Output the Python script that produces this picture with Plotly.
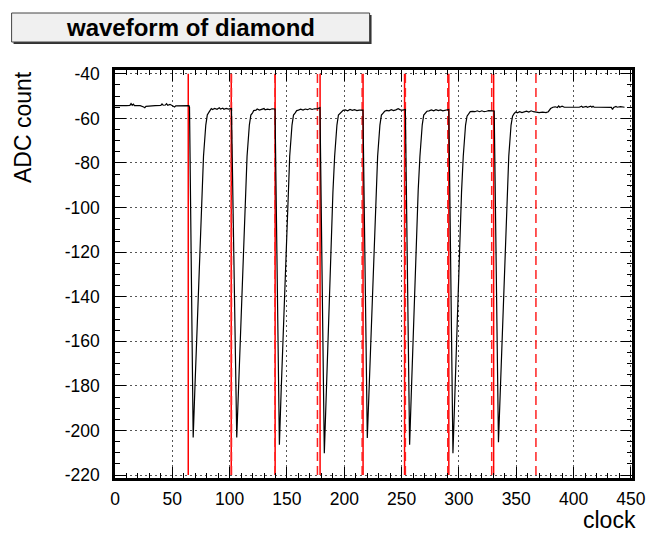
import plotly.graph_objects as go

# ---------------- data ----------------
clock = [
    0, 5, 10, 13, 14, 15, 16, 17, 22, 25, 26, 27, 30, 35, 40, 41, 42, 44, 45, 46, 48, 50, 52, 53, 58, 64.5,
    # pulse 1
    65, 68.2, 69.7, 71.7, 73.7, 75.7, 77.2, 79.2, 80.5, 82, 83, 84, 85, 87, 89, 91, 92, 94, 95, 97, 99, 101.6,
    # pulse 2
    106.2, 107.7, 109.7, 111.7, 113.7, 115.2, 117.2, 118.5, 120, 121, 123, 124, 126, 128, 130, 131, 133, 135, 137, 139.6,
    # pulse 3
    143.4, 144.9, 146.9, 148.9, 150.9, 152.4, 154.4, 155.7, 157.2, 158.5, 160, 162, 164, 166, 168, 170, 172, 174, 177, 178.8,
    # pulse 4
    182.6, 184.1, 186.1, 188.1, 190.1, 191.6, 193.6, 194.9, 196.4, 197.7, 199, 201, 203, 205, 207, 209, 211, 213, 216.3,
    # pulse 5
    220.1, 221.6, 223.6, 225.6, 227.6, 229.1, 231.1, 232.4, 233.9, 235.2, 237, 239, 241, 243, 245, 247, 249, 251, 253.3,
    # pulse 6
    257.0, 258.5, 260.5, 262.5, 264.5, 266, 268, 269.3, 270.8, 272.1, 274, 276, 278, 280, 282, 284, 286, 288, 291.2,
    # pulse 7
    294.8, 296.3, 298.3, 300.3, 302.3, 303.8, 305.8, 307.1, 308.6, 309.9, 312, 314, 316, 318, 320, 322, 324, 326, 329, 330.8,
    # pulse 8 and tail
    334.5, 336, 338, 340, 342, 343.5, 345.5, 346.8, 348.3, 349.6, 351, 353, 355, 357, 359, 361, 363, 365, 367, 370,
    373, 376, 378, 380, 382, 384, 386, 387, 388, 390, 392, 396, 400, 405, 407, 408, 411, 412, 415, 416, 417, 418,
    422, 426, 430, 433, 434, 435, 437, 438, 441, 443, 444.5,
]
adc = [
    -54.3, -54.4, -54.3, -54.2, -53.4, -54.1, -53.6, -54.3, -54.3, -54.9, -55.2, -54.6, -54.4, -54.3, -54.2, -53.5,
    -54.1, -54.0, -53.4, -54.1, -53.7, -54.3, -54.9, -54.4, -54.3, -54.3,
    # pulse 1
    -55.0, -203.1, -181, -151, -122, -92, -77, -63, -58.5, -57.2, -56.3, -55.6, -56.0, -55.5, -55.9, -55.2, -55.8,
    -55.4, -55.9, -55.5, -55.8, -55.6,
    # pulse 2
    -203.1, -181, -151, -122, -92, -77, -63, -58.5, -57.5, -56.5, -56.3, -55.8, -56.3, -56.0, -55.6, -56.2, -55.9,
    -56.1, -55.7, -55.8,
    # pulse 3
    -206.4, -183, -152, -122, -92, -77, -63, -58.5, -57.5, -56.5, -56.3, -55.9, -56.3, -55.8, -56.1, -55.6, -56.0,
    -55.7, -55.6, -55.2,
    # pulse 4
    -210.2, -186, -154, -123, -93, -77, -63, -58.5, -57.6, -56.7, -56.4, -56.2, -56.6, -56.0, -56.4, -56.1, -56.5,
    -56.3, -56.3,
    # pulse 5
    -203.4, -181, -151, -122, -92, -77, -63, -58.5, -57.6, -56.8, -56.4, -56.6, -56.1, -56.5, -56.2, -55.7, -56.2,
    -56.3, -56.0,
    # pulse 6
    -206.4, -183, -152, -122, -92, -77, -63, -58.5, -57.5, -56.8, -56.6, -56.2, -56.6, -56.1, -56.5, -56.2, -56.6,
    -56.3, -56.0,
    # pulse 7
    -210.2, -186, -154, -123, -93, -77, -63, -59, -57.8, -57.0, -56.9, -57.0, -56.6, -57.0, -56.6, -57.0, -56.8,
    -56.5, -56.6, -56.7,
    # pulse 8 and tail
    -205.3, -183, -152, -122, -92, -77, -63, -59, -57.8, -57.1, -57.5, -57.0, -57.4, -57.2, -56.8, -57.2, -56.6,
    -57.0, -57.1, -57.4, -57.2, -57.4, -57.0, -55.6, -55.0, -54.8, -55.1, -54.4, -55.0, -54.5, -55.0, -55.0, -55.0,
    -55.0, -54.5, -55.0, -54.6, -55.0, -54.5, -55.0, -54.6, -55.0, -55.0, -55.0, -55.0, -55.1, -56.0, -55.1, -54.6,
    -55.0, -54.7, -55.0, -55.0,
]

solid_marks = [63.9, 101.4, 139.7, 178.9, 216.4, 252.6, 291.2, 330.3]
dashed_marks = [101.6, 139.6, 176.6, 215.6, 253.3, 290.3, 328.6, 367.2]
line_span = [-220, -40]

x_tickvals = [0, 50, 100, 150, 200, 250, 300, 350, 400, 450]
x_ticktext = ["0", "50", "100", "150", "200", "250", "300", "350", "400", "450"]
y_tickvals = [-220, -200, -180, -160, -140, -120, -100, -80, -60, -40]
y_ticktext = ["-220", "-200", "-180", "-160", "-140", "-120", "-100", "-80", "-60", "-40"]

title_text = "waveform of diamond"
x_title = "clock"
y_title = "ADC count"

# ---------------- layout geometry ----------------
W, H = 658, 533
L, R, T, B = 115, 13, 70, 55
PW, PH = W - L - R, H - T - B


def px_x(p):
    return (p - L) / PW


def px_y(p):
    return (H - B - p) / PH


def seg(xs):
    X, Y = [], []
    for v in xs:
        X += [v, v, None]
        Y += [line_span[0], line_span[1], None]
    return X, Y


fig = go.Figure()
sx, sy = seg(solid_marks)
fig.add_trace(go.Scatter(x=sx, y=sy, mode="lines",
                         line=dict(color="#ff0000", width=1.5), hoverinfo="skip"))
dx, dy = seg(dashed_marks)
fig.add_trace(go.Scatter(x=dx, y=dy, mode="lines",
                         line=dict(color="#ff2020", width=1.5, dash="9px,5px"), hoverinfo="skip"))
fig.add_trace(go.Scatter(x=clock, y=adc, mode="lines",
                         line=dict(color="black", width=1.2), hoverinfo="skip"))

tickfont = dict(family="Liberation Sans, Arial, Helvetica", size=17.5, color="black")
common = dict(showline=True, linecolor="black", linewidth=2.5, mirror="allticks",
              ticks="inside", ticklen=11, tickwidth=1, tickcolor="black",
              showgrid=True, gridcolor="#555555", gridwidth=1, griddash="2px,3px",
              zeroline=False, tickfont=tickfont)

fig.update_xaxes(range=[0, 451], tickmode="array", tickvals=x_tickvals, ticktext=x_ticktext,
                 ticklabelstandoff=3,
                 minor=dict(dtick=10, tick0=0, ticklen=5.5, ticks="inside", tickcolor="black", showgrid=False),
                 **common)
fig.update_yaxes(range=[-221.3, -38.3], tickmode="array", tickvals=y_tickvals, ticktext=y_ticktext,
                 ticklabelstandoff=9,
                 minor=dict(dtick=5, tick0=-40, ticklen=5.5, ticks="inside", tickcolor="black", showgrid=False),
                 **common)

# title box (ROOT-style with shadow)
bx0, bx1, by0, by1 = 9, 376, 13, 42
fig.add_shape(type="rect", xref="paper", yref="paper",
              x0=px_x(bx0 + 2), x1=px_x(bx1 + 2), y0=px_y(by1 + 2), y1=px_y(by0 + 2),
              fillcolor="#333333", line=dict(width=0))
fig.add_shape(type="rect", xref="paper", yref="paper",
              x0=px_x(bx0), x1=px_x(bx1), y0=px_y(by1), y1=px_y(by0),
              fillcolor="#f0f0f0", line=dict(color="#444444", width=1))
fig.add_annotation(xref="paper", yref="paper", x=px_x((bx0 + bx1) / 2), y=px_y((by0 + by1) / 2),
                   xanchor="center", yanchor="middle", showarrow=False,
                   text="<b>" + title_text + "</b>",
                   font=dict(family="Liberation Sans, Arial, Helvetica", size=24, color="black"))

fig.add_annotation(xref="paper", yref="paper", x=1, y=0, xanchor="right", yanchor="middle",
                   xshift=6, yshift=-42, showarrow=False, text=x_title,
                   font=dict(family="Liberation Sans, Arial, Helvetica", size=23, color="black"))
fig.add_annotation(xref="paper", yref="paper", x=0, y=px_y(127), xanchor="center", yanchor="middle",
                   xshift=-92, showarrow=False, text=y_title, textangle=-90,
                   font=dict(family="Liberation Sans, Arial, Helvetica", size=23, color="black"))

fig.update_layout(width=W, height=H, margin=dict(l=L, r=R, t=T, b=B),
                  paper_bgcolor="white", plot_bgcolor="white", showlegend=False)

fig.write_html("out.html")
